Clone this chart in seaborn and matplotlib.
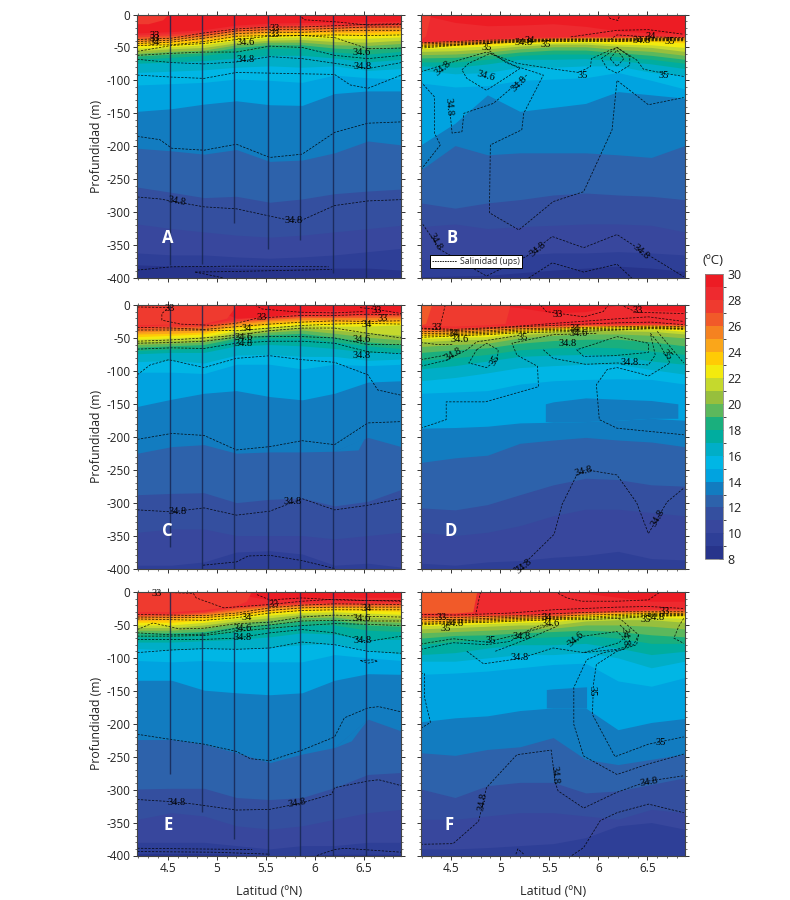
import numpy as np
import matplotlib
matplotlib.use("Agg")
import matplotlib.pyplot as plt
import seaborn as sns
from matplotlib.cm import ScalarMappable
from matplotlib.colors import BoundaryNorm, ListedColormap
from matplotlib.lines import Line2D
from matplotlib.ticker import MultipleLocator

# band colours, 8-9 up to 29-30 degC
band_colors = ["#27348b", "#2e3f97", "#38479d", "#344f9f", "#2d62ab", "#127cc0", "#00a3e0", "#00b6e5",
               "#00aec7", "#00ad9f", "#1aaf7d", "#5cb85c", "#97bf3d", "#c5d92d", "#f3ea0e", "#ffcb05",
               "#faa61a", "#f58220", "#f15a29", "#ef3a2f", "#ee2a2f", "#ed1c24"]

lats = [4.19, 4.54, 4.87, 5.2, 5.54, 5.87, 6.2, 6.54, 6.88]
iso_temps = list(range(29, 8, -1))

# isotherm depth at each latitude, rows 29 down to 9 degC
A_iso = [[-28, -26, -23, -16, -13, -12, -12, -11, -10], [-31, -29, -26, -19, -16, -15, -15, -14, -13],
         [-34, -32, -29, -22, -19, -18, -18, -17, -16], [-37, -35, -32, -25, -22, -21, -21, -20, -19],
         [-40, -38, -35, -28, -25, -24, -24, -23, -22], [-43, -41, -38, -32, -28, -27, -27, -27, -25],
         [-47, -45, -42, -35, -31, -31, -31, -31, -29], [-51, -49, -46, -39, -35, -34, -36, -36, -34],
         [-55, -52, -50, -43, -39, -38, -41, -42, -39], [-59, -56, -54, -46, -42, -42, -46, -47, -44],
         [-63, -60, -58, -50, -46, -46, -51, -53, -49], [-68, -65, -62, -56, -51, -51, -57, -60, -56],
         [-74, -72, -70, -66, -62, -62, -66, -72, -68], [-88, -86, -84, -80, -78, -80, -78, -85, -82],
         [-107, -105, -103, -98, -100, -103, -92, -96, -98], [-147, -143, -136, -131, -137, -138, -120, -116, -116],
         [-203, -207, -212, -205, -223, -221, -210, -192, -198], [-262, -270, -278, -276, -285, -280, -272, -268, -265],
         [-318, -325, -330, -335, -338, -335, -330, -325, -320], [-362, -365, -365, -368, -370, -368, -365, -360, -355],
         [-380, -382, -382, -385, -385, -385, -385, -385, -388]]

B_iso = [[0, -12, -17, -16, -14, -18, -25, -28, -28], [-41, -39, -37, -35, -34, -33, -33, -32, -33],
         [-42, -40, -38, -36, -35, -34, -34, -33, -34], [-43, -41, -40, -37, -36, -35, -35, -34, -35],
         [-44, -43, -41, -38, -37, -36, -36, -35, -36], [-46, -45, -43, -40, -39, -37, -38, -37, -38],
         [-48, -47, -45, -42, -41, -39, -41, -41, -43], [-52, -50, -48, -45, -43, -42, -45, -46, -50],
         [-56, -55, -52, -48, -45, -45, -48, -50, -56], [-61, -60, -57, -52, -49, -49, -53, -56, -62],
         [-66, -65, -62, -57, -54, -54, -58, -62, -68], [-72, -72, -68, -62, -60, -60, -64, -68, -74],
         [-78, -80, -75, -68, -68, -67, -70, -75, -82], [-85, -90, -88, -80, -80, -78, -78, -88, -92],
         [-104, -110, -108, -100, -98, -96, -88, -100, -113], [-198, -165, -122, -147, -141, -135, -117, -122, -127],
         [-236, -199, -213, -210, -210, -210, -213, -217, -199], [-286, -294, -286, -281, -274, -271, -274, -276, -281],
         [-322, -318, -325, -322, -320, -318, -318, -320, -330], [-372, -372, -368, -365, -362, -362, -360, -362, -365],
         [-398, -397, -396, -392, -388, -385, -382, -385, -390]]

C_iso = [[0, 0, 0, -20, -18, -10, -8, -12, -10], [-32, -30, -29, -21, -17, -14, -14, -13, -12],
         [-35, -33, -32, -24, -20, -17, -17, -16, -15], [-38, -36, -35, -26, -22, -19, -19, -19, -18],
         [-41, -39, -38, -29, -24, -22, -22, -22, -21], [-44, -43, -41, -32, -27, -24, -25, -25, -24],
         [-48, -46, -44, -35, -30, -27, -28, -28, -27], [-52, -50, -48, -39, -33, -30, -32, -32, -30],
         [-56, -54, -52, -42, -37, -34, -38, -42, -46], [-60, -58, -56, -46, -41, -38, -43, -49, -53],
         [-64, -62, -60, -50, -45, -43, -49, -56, -60], [-69, -67, -65, -54, -50, -50, -56, -62, -66],
         [-74, -72, -72, -62, -60, -62, -66, -72, -72], [-86, -84, -88, -76, -75, -78, -78, -84, -82],
         [-102, -102, -104, -90, -90, -97, -90, -92, -90], [-154, -143, -134, -130, -139, -144, -134, -117, -115],
         [-225, -215, -212, -225, -223, -223, -222, -201, -215], [-288, -286, -285, -300, -295, -293, -305, -298, -280],
         [-345, -340, -340, -350, -350, -350, -355, -350, -345], [-395, -395, -390, -375, -373, -378, -395, -392, -398],
         [-400, -400, -400, -400, -400, -400, -400, -400, -400]]

D_iso = [[0, 0, 0, -4, -12, -10, 0, -8, -10], [-33, -34, -32, -30, -29, -28, -28, -28, -28],
         [-36, -36, -34, -32, -31, -30, -30, -29, -30], [-38, -38, -36, -34, -33, -31, -31, -30, -31],
         [-41, -40, -38, -36, -34, -32, -32, -31, -32], [-44, -43, -41, -38, -36, -33, -33, -32, -34],
         [-47, -46, -44, -40, -37, -34, -34, -34, -36], [-51, -49, -48, -42, -39, -36, -36, -36, -40],
         [-56, -53, -52, -45, -42, -39, -39, -40, -44], [-63, -60, -58, -50, -46, -44, -44, -46, -50],
         [-72, -68, -65, -58, -54, -52, -52, -56, -62], [-84, -80, -75, -68, -65, -64, -65, -70, -75],
         [-97, -92, -85, -78, -76, -75, -77, -85, -90], [-115, -110, -103, -95, -92, -90, -90, -98, -105],
         [-134, -132, -130, -120, -115, -113, -112, -113, -120], [-187, -186, -184, -179, -178, -177, -175, -172, -175],
         [-239, -232, -228, -210, -205, -201, -205, -208, -215], [-308, -311, -303, -288, -273, -263, -265, -273, -275],
         [-345, -350, -345, -335, -320, -310, -310, -315, -320], [-392, -395, -390, -388, -383, -380, -374, -385, -387],
         [-400, -400, -400, -400, -400, -400, -400, -400, -400]]

E_iso = [[0, 0, 0, -3, -12, -10, -8, -8, -8], [-32, -32, -29, -22, -18, -16, -16, -16, -15],
         [-35, -34, -31, -24, -20, -18, -18, -18, -18], [-37, -36, -33, -27, -22, -20, -20, -20, -20],
         [-40, -39, -35, -30, -25, -22, -22, -22, -23], [-43, -42, -38, -33, -28, -25, -24, -25, -26],
         [-46, -46, -42, -36, -31, -28, -27, -28, -29], [-50, -50, -46, -40, -35, -31, -30, -32, -34],
         [-54, -54, -50, -44, -39, -34, -34, -38, -40], [-58, -58, -55, -48, -43, -39, -38, -44, -46],
         [-62, -62, -60, -53, -49, -44, -43, -50, -52], [-68, -68, -66, -60, -56, -50, -50, -58, -60],
         [-76, -76, -74, -72, -68, -62, -64, -72, -72], [-86, -88, -85, -86, -84, -80, -78, -88, -94],
         [-104, -106, -104, -106, -106, -106, -95, -100, -104], [-134, -134, -149, -153, -156, -153, -134, -124, -125],
         [-224, -224, -231, -244, -259, -246, -236, -193, -211], [-299, -298, -298, -312, -315, -312, -297, -277, -274],
         [-345, -335, -340, -355, -360, -355, -345, -335, -330], [-380, -380, -380, -385, -390, -385, -385, -380, -380],
         [-397, -397, -397, -398, -400, -400, -398, -398, -398]]

F_iso = [[0, 0, 0, 0, 0, -2, -8, -14, -14], [-34, -34, -33, -32, -32, -28, -27, -26, -25],
         [-36, -36, -35, -34, -34, -30, -29, -27, -27], [-39, -38, -37, -36, -36, -32, -30, -28, -29],
         [-42, -41, -40, -38, -38, -33, -31, -30, -31], [-45, -44, -42, -40, -40, -35, -33, -31, -33],
         [-48, -47, -45, -43, -42, -37, -35, -33, -36], [-51, -50, -48, -46, -45, -40, -38, -38, -40],
         [-56, -54, -52, -50, -50, -44, -42, -42, -46], [-62, -60, -58, -56, -55, -50, -50, -52, -56],
         [-70, -66, -65, -62, -60, -58, -60, -65, -68], [-80, -75, -72, -70, -68, -66, -70, -78, -78],
         [-95, -92, -85, -80, -80, -78, -85, -95, -90], [-105, -105, -100, -95, -95, -92, -100, -115, -105],
         [-125, -123, -120, -115, -110, -108, -135, -143, -130], [-197, -191, -188, -180, -176, -176, -209, -198, -192],
         [-244, -248, -239, -235, -221, -254, -262, -254, -246], [-299, -312, -294, -289, -289, -305, -302, -292, -282],
         [-345, -345, -340, -335, -335, -340, -345, -330, -335], [-390, -390, -388, -385, -382, -373, -355, -350, -360],
         [-400, -400, -400, -400, -400, -400, -400, -400, -400]]

# warm lenses and blocks on top of the isotherms: band temp, lats, top, bottom
A_patch = [(27, [4.19, 4.3, 4.45, 4.5], [0, 0, 0, 0], [-14, -14, -8, 0])]
B_patch = [(27, [4.19, 4.24, 4.29], [0, 0, 0], [-38, -32, 0])]
C_patch = [(27, [4.19, 4.54, 4.87, 5.1, 5.2], [0, 0, 0, 0, 0], [-30, -29, -28, -20, 0]),
           (13, [6.2, 6.44, 6.5, 6.54], [-222, -206, -203, -201], [-222, -220, -203, -201])]
D_patch = [(13, [5.46, 5.54, 5.87, 6.2, 6.54, 6.81], [-150, -147, -141, -143, -145, -150], [-177, -178, -177, -175, -172, -172]),
           (27, [4.19, 4.54, 4.87, 5.05, 5.1], [0, 0, 0, 0, 0], [-31, -32, -30, -28, 0]),
           (26, [4.19, 4.24, 4.3], [0, 0, 0], [-30, -28, 0])]
E_patch = [(27, [4.19, 4.54, 4.87, 5.2, 5.3, 5.35], [0, 0, 0, 0, 0, 0], [-30, -30, -27, -20, -14, 0]),
           (13, [6.2, 6.37, 6.45, 6.54], [-236, -214, -204, -193], [-236, -226, -210, -193])]
F_patch = [(13, [5.47, 5.54, 5.87, 5.88], [-148, -147, -144, -144], [-176, -176, -176, -176]),
           (26, [4.19, 4.54, 4.72, 4.76], [0, 0, 0, 0], [-32, -32, -30, 0])]

# salinity contours: (lats, depths)
A_sal = [(lats, [-38, -36, -28, -22, -19, -19, -17, -15, -14]), (lats, [-41, -39, -32, -25, -23, -23, -21, -19, -19]),
         (lats, [-44, -42, -36, -29, -27, -27, -25, -24, -24]), (lats, [-47, -46, -41, -33, -32, -32, -31, -32, -31]),
         (lats, [-56, -47, -44, -38, -33, -32, -35, -52, -51]), (lats, [-62, -59, -57, -57, -48, -50, -62, -67, -62]),
         (lats, [-68, -73, -75, -72, -64, -67, -74, -82, -73]),
         ([4.19, 4.54, 4.87, 5.2, 5.54, 5.87, 6.2, 6.36, 6.54, 6.88], [-92, -95, -97, -88, -89, -90, -91, -107, -112, -92]),
         ([4.19, 4.42, 4.54, 4.87, 5.2, 5.54, 5.87, 6.2, 6.54, 6.88], [-185, -190, -203, -206, -197, -217, -212, -179, -165, -163]),
         ([4.19, 4.42, 4.87, 5.2, 5.54, 5.7, 5.87, 6.2, 6.54, 6.88], [-277, -280, -292, -295, -306, -311, -312, -290, -283, -281]),
         ([4.19, 4.54, 5.2, 6.14], [-388, -383, -382, -383]), ([4.78, 5.2, 6.17], [-391, -390, -387]), ([4.78, 5.07], [-391, -400]),
         ([5.84, 5.89, 6.2, 6.54, 6.88], [0, -8, -11, -16, -15])]
A_lab = [("33", 4.37, -32, 0), ("33", 4.37, -37, 0), ("34", 4.37, -42, 0), ("34.6", 5.29, -42, 0), ("34.8", 5.29, -68, 0),
         ("33", 5.59, -21, 0), ("33", 5.59, -30, 0), ("34.6", 6.48, -57, 0), ("34.8", 6.49, -79, 0),
         ("34.8", 4.59, -284, -10), ("34.8", 5.78, -312, 0)]

B_sal = [(lats, [-43, -41, -39, -38, -37, -37, -37, -36, -36]), (lats, [-45, -43, -41, -39, -38, -38, -38, -37, -37]),
         (lats, [-47, -45, -42, -40, -39, -39, -39, -38, -38]), (lats, [-49, -46, -43, -41, -40, -40, -40, -39, -39]),
         (lats, [-51, -47, -44, -42, -41, -41, -41, -40, -40]),
         ([5.72, 6.19, 6.51, 6.87], [-34, -24, -23, -30]), ([6.12, 6.19, 6.51, 6.87], [-38, -31, -34, -35]),
         ([6.09, 6.12, 6.2, 6.22], [0, -6, -9, 0]),
         ([4.19, 4.52, 4.86, 5.17, 5.51, 5.8, 5.92, 5.93, 6.12, 6.19, 6.39, 6.46, 6.66, 6.87],
          [-87, -72, -57, -74, -82, -88, -79, -67, -54, -50, -69, -83, -89, -94]),
         ([6.03, 6.19, 6.32, 6.32, 6.19, 6.09, 6.03], [-67, -50, -64, -77, -89, -82, -67]),
         ([6.12, 6.19, 6.26, 6.19, 6.12], [-67, -54, -67, -79, -67]),
         ([4.61, 4.68, 4.9, 5.2, 5.1, 4.86, 4.66, 4.61], [-84, -74, -59, -82, -92, -115, -97, -84]),
         ([4.86, 5.07, 5.44, 5.24, 5.22, 4.9, 4.89, 5.19, 5.54, 5.85, 6.14, 6.19, 6.51, 6.87],
          [-52, -74, -92, -150, -175, -198, -301, -327, -284, -269, -175, -100, -137, -126]),
         ([4.19, 4.33, 4.33, 4.39, 4.19], [-102, -125, -180, -198, -236]),
         ([4.49, 4.51, 4.61, 4.63, 4.93, 5.27], [-150, -180, -178, -150, -135, -92]),
         ([4.19, 4.39, 4.86, 5.27, 5.53, 5.85, 6.19, 6.53, 6.87], [-314, -357, -397, -367, -337, -354, -334, -367, -398]),
         ([5.29, 5.53, 5.85, 6.19, 6.34], [-400, -377, -391, -379, -400])]
B_lab = [("35", 4.86, -50, 0), ("34.8", 4.42, -81, 40), ("34.6", 4.85, -94, -15), ("34.8", 5.19, -105, 45),
         ("34.8", 4.48, -140, -85), ("35", 5.84, -93, 0), ("35", 6.67, -92, 0), ("34.8", 5.24, -42, 0),
         ("34.8", 6.44, -40, 0), ("34", 6.53, -33, 0), ("35", 5.46, -46, 0), ("35", 6.73, -41, 0), ("34", 5.3, -39, 0),
         ("34.8", 4.34, -345, -60), ("34.8", 5.38, -356, 40), ("34.8", 6.44, -360, -40)]

C_sal = [([4.19, 4.54], [-3, -4]),
         ([4.52, 4.44, 4.44, 4.63, 4.97, 5.19, 5.41, 5.85, 6.2, 6.53, 6.88], [-3, -13, -23, -29, -31, -28, -20, -16, -16, -14, -15]),
         ([5.39, 5.46, 5.85, 6.2, 6.5], [0, -6, -11, -12, -10]), ([6.46, 6.6, 6.88], [-4, -6, -13]),
         (lats, [-34, -35, -37, -33, -29, -26, -24, -25, -24]), (lats, [-38, -38, -38, -39, -35, -31, -29, -28, -29]),
         (lats, [-55, -53, -50, -46, -39, -35, -35, -43, -50]), (lats, [-58, -57, -55, -49, -48, -48, -50, -60, -60]),
         (lats, [-67, -65, -66, -58, -55, -55, -58, -71, -74]),
         ([4.19, 4.32, 4.51, 4.87, 5.2, 5.54, 5.87, 6.2, 6.54, 6.64, 6.88], [-106, -91, -83, -95, -81, -77, -83, -87, -106, -129, -137]),
         (lats, [-204, -195, -198, -220, -215, -206, -212, -179, -177]),
         (lats, [-311, -314, -308, -319, -313, -294, -311, -304, -294]),
         ([4.86, 5.2, 5.32, 5.54, 5.87, 6.2], [-395, -390, -381, -380, -388, -400])]
C_lab = [("33", 4.52, -5, 0), ("33", 5.46, -19, 0), ("33", 6.63, -9, 0), ("33", 6.69, -20, 0), ("34", 6.53, -29, 0),
         ("34", 5.3, -36, 0), ("34.6", 5.27, -49, 0), ("34.8", 5.27, -59, 0), ("34.6", 6.48, -52, 0), ("34.8", 6.48, -76, 0),
         ("34.8", 4.6, -313, 0), ("34.8", 5.77, -298, 0)]

D_sal = [([4.44, 4.4, 4.39], [0, -25, -33]), ([5.41, 5.47, 5.85, 6.05, 6.1], [0, -10, -18, -10, 0]),
         ([6.26, 6.39, 6.87], [-2, -11, -13]), ([4.19, 4.54, 5.1, 5.54, 6.19, 6.51, 6.87], [-35, -37, -33, -28, -21, -18, -25]),
         (lats, [-36, -39, -36, -33, -31, -29, -27, -26, -30]), (lats, [-40, -41, -39, -36, -35, -34, -33, -32, -33]),
         (lats, [-43, -43, -41, -38, -37, -36, -35, -34, -35]), (lats, [-46, -45, -43, -40, -39, -38, -37, -35, -36]),
         (lats, [-49, -47, -45, -42, -41, -40, -38, -36, -37]), ([4.19, 4.36, 4.52], [-57, -60, -60]),
         ([4.76, 4.86, 4.98, 4.97, 4.86, 4.68, 4.76], [-68, -58, -68, -83, -95, -88, -68]),
         ([4.19, 4.45, 4.66, 4.76, 5.2], [-93, -84, -68, -56, -46]), ([4.19, 4.45], [-83, -76]),
         ([4.19, 4.45, 4.45, 4.85, 5.39, 5.38, 5.17, 5.12, 5.54, 5.98], [-187, -174, -147, -147, -124, -93, -76, -58, -45, -43]),
         ([5.78, 5.85, 6.15, 6.51, 6.51, 6.19, 5.78], [-68, -78, -77, -72, -58, -48, -68]),
         ([5.44, 5.54, 5.87, 6.19, 6.51, 6.58, 6.53], [-68, -81, -90, -88, -91, -76, -43]),
         ([6.53, 6.63, 6.73, 6.51, 6.43, 6.19, 6.09, 5.98, 6.01, 6.19, 6.87], [-43, -61, -88, -108, -104, -95, -98, -121, -174, -187, -197]),
         ([6.6, 6.87], [-40, -88]),
         ([5.13, 5.27, 5.55, 5.63, 5.78, 5.87, 6.19, 6.39, 6.51, 6.7, 6.87], [-400, -389, -348, -303, -258, -250, -258, -300, -347, -299, -278])]
D_lab = [("33", 4.35, -34, 0), ("33", 5.59, -14, 0), ("33", 6.4, -9, 0), ("34", 4.53, -43, 0), ("34.6", 4.59, -52, 0),
         ("34.8", 4.52, -75, 30), ("35", 4.95, -84, 60), ("35", 5.23, -50, 0), ("34", 5.76, -36, 0), ("34.8", 5.69, -59, 0),
         ("34.6", 5.8, -44, 0), ("34.8", 6.32, -88, 0), ("35", 6.7, -75, -45), ("34.8", 5.85, -252, 15),
         ("34.8", 6.61, -323, 60), ("34.8", 5.24, -396, 40)]

E_sal = [([4.35, 4.76, 4.79, 5.07, 5.54, 5.87, 6.2, 6.54, 6.88], [0, -2, -9, -24, -19, -14, -11, -13, -13]),
         ([5.41, 5.54, 5.87, 6.2, 6.88], [-4, -12, -9, -12, -14]),
         ([4.19, 4.87, 5.2, 5.54, 5.87, 6.2, 6.88], [-34, -36, -32, -24, -20, -18, -19]),
         ([4.19, 4.87, 5.2, 5.54, 5.87, 6.2, 6.88], [-38, -39, -35, -28, -24, -23, -23]),
         ([4.19, 4.87, 5.2, 5.54, 5.87, 6.2, 6.88], [-41, -43, -39, -32, -28, -27, -27]),
         ([4.19, 4.35, 4.5, 4.62, 4.87, 5.2, 5.54, 5.87, 6.2, 6.54, 6.88], [-57, -47, -52, -56, -55, -48, -46, -38, -35, -37, -38]),
         (lats, [-62, -65, -64, -55, -50, -44, -43, -44, -44]), (lats, [-67, -67, -66, -60, -55, -51, -48, -49, -51]),
         ([4.19, 4.87, 5.2, 5.54, 5.87, 6.2, 6.54, 6.88], [-72, -72, -70, -62, -57, -62, -75, -67]),
         (lats, [-92, -88, -86, -87, -85, -76, -80, -90, -93]),
         ([6.46, 6.6, 6.64, 6.54, 6.46], [-104, -103, -105, -108, -104]),
         ([4.19, 4.54, 4.87, 5.2, 5.34, 5.54, 5.87, 6.2, 6.3, 6.54, 6.65, 6.88],
          [-216, -224, -231, -242, -253, -256, -240, -220, -191, -176, -174, -182]),
         ([4.19, 4.51, 4.77, 5.2, 5.54, 5.87, 6.17, 6.2, 6.54, 6.65, 6.88], [-315, -318, -322, -331, -330, -320, -307, -297, -287, -285, -294]),
         ([4.19, 5.36], [-389, -391]), ([4.19, 4.97, 5.54], [-394, -395, -398]),
         ([6.02, 6.2, 6.3, 6.88], [-400, -391, -389, -395])]
E_lab = [("33", 4.39, -3, 0), ("33", 5.58, -19, 0), ("34", 5.3, -38, 0), ("34", 6.53, -25, 0), ("34.6", 5.26, -55, 0),
         ("34.8", 5.26, -69, 0), ("34.6", 6.48, -40, 0), ("34.8", 6.49, -73, 0), ("34.8", 4.59, -320, 0), ("34.8", 5.82, -321, 10)]

F_sal = [([4.8, 4.75], [0, -34]), ([5.59, 5.68, 5.83, 6.19, 6.51, 6.63], [-2, -9, -14, -14, -12, 0]),
         ([4.19, 4.54, 5.1, 5.54, 6.19, 6.51, 6.87], [-34, -35, -32, -27, -23, -22, -25]),
         (lats, [-38, -39, -37, -36, -33, -31, -30, -30, -30]), (lats, [-42, -42, -40, -38, -37, -35, -34, -32, -33]),
         (lats, [-46, -44, -42, -40, -39, -38, -36, -34, -34]), (lats, [-48, -46, -44, -42, -40, -40, -38, -36, -35]),
         (lats, [-50, -47, -46, -44, -42, -42, -40, -37, -36]),
         ([4.19, 4.52, 4.86, 5.17, 5.54], [-79, -71, -76, -65, -49]),
         ([4.19, 4.52, 4.86, 5.1, 5.3, 5.42], [-87, -77, -80, -75, -57, -50]),
         ([4.66, 4.83, 5.2, 5.54, 5.85, 6.19, 6.36, 6.41, 6.24, 6.19], [-90, -109, -101, -85, -92, -87, -80, -65, -43, -39]),
         ([4.95, 5.3, 5.58], [-90, -70, -52]),
         ([5.68, 5.85, 6.19, 6.26, 6.21, 5.85], [-80, -67, -60, -70, -77, -92]),
         ([6.41, 6.39, 6.19, 5.98, 5.95, 5.94, 6.17, 6.51, 6.87], [-65, -80, -90, -110, -140, -186, -250, -231, -220]),
         ([6.22, 6.29, 6.32, 6.26, 6.05, 5.88, 5.75, 5.75, 5.85, 6.19, 6.51, 6.87],
          [-50, -60, -75, -87, -92, -103, -145, -201, -249, -277, -261, -246]),
         ([4.19, 4.23, 4.23, 4.29, 4.19], [-124, -124, -161, -198, -207]),
         ([4.19, 4.52, 4.78, 4.86, 5.17, 5.52, 5.56, 5.59, 5.85, 6.19, 6.51, 6.87],
          [-383, -382, -348, -297, -247, -240, -289, -302, -328, -304, -287, -279]),
         ([5.73, 5.85, 6.02, 6.19, 6.51, 6.87], [-400, -388, -347, -335, -322, -335]),
         ([5.16, 5.18, 5.24], [-398, -390, -398]), ([6.87, 6.82, 6.77, 6.87], [-40, -52, -70, -78])]
F_lab = [("33", 4.4, -38, 0), ("34.8", 4.54, -48, 0), ("35", 4.44, -55, 0), ("34", 5.47, -39, 0), ("34.6", 5.51, -48, 0),
         ("35", 4.9, -73, 0), ("34.8", 5.22, -68, 0), ("34.8", 5.2, -100, 0), ("34.6", 5.77, -72, 40), ("34.8", 6.27, -68, -85),
         ("35", 5.94, -151, -90), ("35", 6.64, -228, 0), ("34.8", 5.56, -277, -85), ("34.8", 4.82, -318, 80),
         ("34.8", 6.52, -288, 10), ("33", 6.68, -29, 0), ("34.8", 6.58, -38, 0), ("35", 6.48, -41, 0)]

# CTD casts on the left panels
station_lats = [4.52, 4.85, 5.18, 5.52, 5.85, 6.18, 6.52]
A_cast_top = [0, 0, 0, 0, 0, 0, 0]
A_cast_end = [-380, -378, -316, -356, -342, -392, -400]
C_cast_top = [0, 0, 0, 0, 0, 0, 0]
C_cast_end = [-368, -400, -400, -400, -400, -400, -400]
E_cast_top = [0, -60, -60, 0, 0, 0, 0]
E_cast_end = [-276, -334, -375, -400, -400, -400, -400]

panels = [("A", A_iso, A_sal, A_lab, A_patch, A_cast_top, A_cast_end, 137.3, 14.5, (4.5, -340)),
          ("B", B_iso, B_sal, B_lab, B_patch, None, None, 420.7, 14.5, (4.51, -340)),
          ("C", C_iso, C_sal, C_lab, C_patch, C_cast_top, C_cast_end, 137.3, 305, (4.5, -343)),
          ("D", D_iso, D_sal, D_lab, D_patch, None, None, 420.7, 305, (4.5, -343)),
          ("E", E_iso, E_sal, E_lab, E_patch, E_cast_top, E_cast_end, 137.3, 592, (4.5, -353)),
          ("F", F_iso, F_sal, F_lab, F_patch, None, None, 420.7, 592, (4.48, -353))]

sns.set_style("ticks")
plt.rcParams["font.family"] = ["Open Sans", "DejaVu Sans"]
palette = sns.color_palette(band_colors)
W, H = 790, 900
fig = plt.figure(figsize=(W / 100, H / 100), dpi=100)


def px_axes(x, y, w, h):
    return fig.add_axes([x / W, 1 - (y + h) / H, w / W, h / H])


for name, iso, sal, lab, patches, cast_top, cast_end, px, py, letter in panels:
    ax = px_axes(px, py, 264, 263.5)
    ax.fill_between(lats, 0, -400, color=palette[21], lw=0)
    for t, row in zip(iso_temps, iso):
        ax.fill_between(lats, row, -400, color=palette[t - 8 - 1], lw=0)
    for t, plat, top, bottom in patches:
        ax.fill_between(plat, top, bottom, color=palette[t - 8], lw=0)
    for xs, ys in sal:
        sns.lineplot(x=xs, y=ys, sort=False, estimator=None, color="black", lw=0.55, alpha=0.85,
                     linestyle=(0, (3, 1.8)), ax=ax, legend=False)
    for s, x, y, rot in lab:
        ax.text(x, y, s, family="Liberation Serif", fontsize=7.5, color="black", rotation=rot,
                ha="center", va="center", rotation_mode="anchor")
    if cast_top is not None:
        ax.vlines(station_lats, cast_top, cast_end, color="#16244f", lw=1, alpha=0.8)
    ax.text(letter[0], letter[1], name, color="white", fontsize=12, fontweight="bold", ha="center", va="center")

    ax.set_xlim(4.19, 6.88)
    ax.set_ylim(-400, 0)
    ax.set_xticks([4.5, 5, 5.5, 6, 6.5])
    ax.set_yticks(range(-400, 1, 50))
    ax.xaxis.set_minor_locator(MultipleLocator(0.1))
    ax.yaxis.set_minor_locator(MultipleLocator(10))
    ax.tick_params(which="major", direction="out", length=3, width=0.7, color="#333333", top=True, right=True,
                   labelsize=8.5, labelcolor="#222222", pad=2)
    ax.tick_params(which="minor", direction="out", length=1.5, width=0.5, color="#333333", top=True, right=True)
    for sp in ax.spines.values():
        sp.set_visible(True)
        sp.set_color("#444444")
        sp.set_linewidth(0.8)
    ax.set_xlabel("")
    ax.set_ylabel("")
    if name in "ACE":
        ax.set_yticklabels([str(v) for v in range(-400, 1, 50)])
        ax.set_ylabel("Profundidad (m)", fontsize=8.8, color="#222222", labelpad=2)
    else:
        ax.set_yticklabels([])
    if name in "EF":
        ax.set_xticklabels(["4.5", "5", "5.5", "6", "6.5"])
        ax.set_xlabel("Latitud (\u00baN)", fontsize=9, color="#222222", labelpad=7)
    else:
        ax.set_xticklabels([])
    if name == "B":
        handle = Line2D([], [], color="black", lw=0.6, linestyle=(0, (2, 1)))
        leg = ax.legend([handle], ["Salinidad (ups)"], loc="lower left", bbox_to_anchor=(0.035, 0.038), fontsize=6.3,
                        frameon=True, fancybox=False, framealpha=1, edgecolor="black", borderpad=0.25,
                        handlelength=2.8, handletextpad=0.4, borderaxespad=0)
        leg.get_frame().set_linewidth(0.7)

# temperature scale
cax = px_axes(705.3, 274.3, 18, 285)
cmap = ListedColormap(band_colors)
norm = BoundaryNorm(np.arange(8, 31), cmap.N)
cb = fig.colorbar(ScalarMappable(norm=norm, cmap=cmap), cax=cax, ticks=range(8, 31, 2), spacing="proportional")
cb.outline.set_edgecolor("#888888")
cb.outline.set_linewidth(0.6)
cb.ax.tick_params(length=3, width=0.6, direction="in", color="#333333", labelsize=9, labelcolor="#222222", pad=3)
fig.text(713 / W, 1 - 261 / H, "(\u00baC)", fontsize=9.5, color="#222222", ha="center", va="center")

fig.savefig("out.png", dpi=100)
